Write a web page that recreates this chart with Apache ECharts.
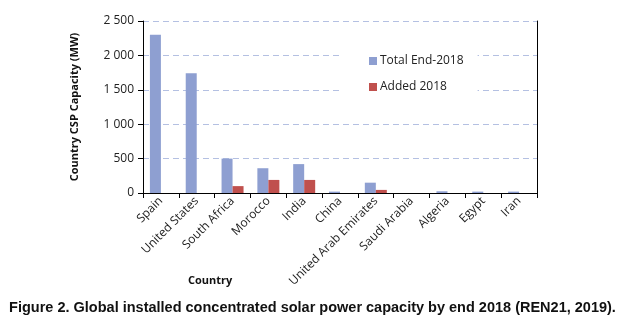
<!DOCTYPE html>
<html>
<head>
<meta charset="utf-8">
<script src="https://cdn.jsdelivr.net/npm/echarts@6/dist/echarts.min.js"></script>
<style>
  html, body { margin: 0; padding: 0; background: #fff; }
  #chart { width: 625px; height: 326px; }
</style>
</head>
<body>
<div id="chart"></div>
<script>
// country list and values (MW)
var countries = ["Spain", "United States", "South Africa", "Morocco", "India", "China",
  "United Arab Emirates", "Saudi Arabia", "Algeria", "Egypt", "Iran"];
var totalEnd2018 = [2300, 1740, 500, 360, 420, 20, 150, 0, 25, 20, 20];
var added2018 = [0, 0, 100, 190, 190, 0, 45, 0, 0, 0, 0];
var yTicks = [0, 500, 1000, 1500, 2000, 2500];

var myChart = echarts.init(document.getElementById("chart"));
myChart.setOption({
  animation: false,
  color: ["#8e9fd1", "#c0504d"],
  title: {
    text: "Figure 2. Global installed concentrated solar power capacity by end 2018 (REN21, 2019).",
    left: "center",
    top: 295,
    textStyle: {
      fontFamily: "Liberation Sans",
      fontWeight: "bold",
      fontSize: 14.5,
      color: "#111"
    }
  },
  // x-axis title sits left of centre, under the labels
  graphic: [
    {
      type: "text",
      left: 188,
      top: 275,
      style: {
        text: "Country",
        fontFamily: "Open Sans",
        fontWeight: "bold",
        fontSize: 11,
        fill: "#111"
      }
    }
  ],
  grid: {
    left: 143,
    right: 88,
    top: 21,
    bottom: 133
  },
  legend: {
    orient: "vertical",
    left: 342,
    top: 46,
    padding: [9, 14, 9, 27],
    backgroundColor: "#fff",
    itemWidth: 8,
    itemHeight: 8,
    itemGap: 14,
    icon: "rect",
    textStyle: {
      fontFamily: "Open Sans",
      fontSize: 12,
      color: "#222",
      padding: [0, 0, 0, -2]
    },
    data: ["Total End-2018", "Added 2018"]
  },
  xAxis: [
    {
      type: "category",
      data: countries,
      axisLine: { lineStyle: { color: "#000" } },
      axisTick: { show: true, length: 5, lineStyle: { color: "#000" } },
      axisLabel: {
        interval: 0,
        rotate: 45,
        margin: 6,
        fontFamily: "Open Sans",
        fontSize: 12,
        color: "#222"
      }
    },
    {
      // top border of the plot box
      type: "category",
      position: "top",
      data: countries,
      axisLine: { show: true, lineStyle: { color: "#000" } },
      axisTick: { show: false },
      axisLabel: { show: false }
    }
  ],
  yAxis: [
    {
      type: "value",
      min: 0,
      max: 2500,
      interval: 500,
      name: "Country CSP Capacity (MW)",
      nameLocation: "middle",
      nameGap: 63,
      nameTextStyle: {
        fontFamily: "Open Sans",
        fontWeight: "bold",
        fontSize: 11,
        color: "#111"
      },
      axisLine: { show: true, lineStyle: { color: "#000" } },
      axisTick: { show: true, length: 5, lineStyle: { color: "#000" } },
      axisLabel: {
        margin: 9,
        fontFamily: "Open Sans",
        fontSize: 12,
        color: "#222",
        formatter: function (v) {
          return yTicks.indexOf(v) >= 0 ? String(v).replace(/\B(?=(\d{3})+(?!\d))/g, " ") : "";
        }
      },
      splitLine: {
        show: true,
        lineStyle: { color: "#b4c0e2", type: [6, 4], width: 1 }
      }
    },
    {
      // right border of the plot box
      type: "value",
      position: "right",
      min: 0,
      max: 2500,
      interval: 500,
      axisLine: { show: true, lineStyle: { color: "#000" } },
      axisTick: { show: false },
      axisLabel: { show: false },
      splitLine: { show: false }
    }
  ],
  series: [
    {
      name: "Total End-2018",
      type: "bar",
      data: totalEnd2018,
      barWidth: 11,
      barGap: "0%"
    },
    {
      name: "Added 2018",
      type: "bar",
      data: added2018,
      barWidth: 11
    }
  ]
});
</script>
</body>
</html>
